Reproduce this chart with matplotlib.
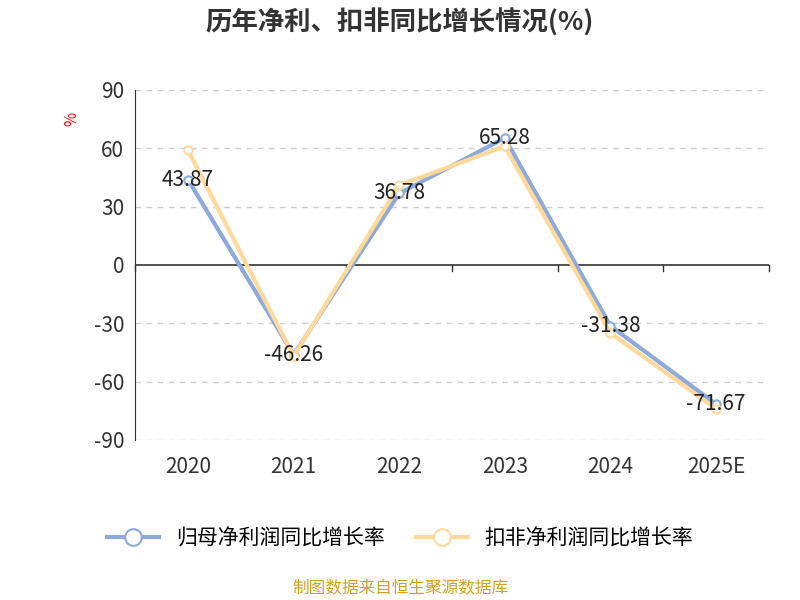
import matplotlib
matplotlib.use("Agg")
import matplotlib.pyplot as plt
import numpy as np

plt.rcParams['font.family'] = ['Noto Sans CJK SC', 'DejaVu Sans']

years = ["2020", "2021", "2022", "2023", "2024", "2025E"]
net_profit = [43.87, -46.26, 36.78, 65.28, -31.38, -71.67]
deducted = [59.0, -47.0, 41.0, 61.0, -35.0, -74.0]
yticks = [90, 60, 30, 0, -30, -60, -90]

c1 = "#8eaadb"
c2 = "#fdd99b"

fig = plt.figure(figsize=(8, 6), dpi=100)
ax = fig.add_axes([0.169, 0.267, 0.792, 0.583])
x = np.arange(len(years)) + 0.5

ax.plot(x, net_profit, "-o", color=c1, lw=3, ms=6, mfc="white", mew=1.5,
        label="归母净利润同比增长率", zorder=3)
ax.plot(x, deducted, "-o", color=c2, lw=3, ms=6, mfc="white", mew=1.5,
        label="扣非净利润同比增长率", zorder=4)
for xi, v in zip(x, net_profit):
    ax.text(xi, v, f"{v:.2f}", ha="center", va="center", fontsize=15, color="#222", zorder=5)

ax.set_xlim(0, len(years))
ax.set_ylim(-90, 90)
ax.set_yticks(yticks)
ax.set_yticklabels([str(t) for t in yticks], fontsize=15, color="#333")
ax.set_xticks(x)
ax.set_xticklabels(years, fontsize=15, color="#333")
ax.tick_params(axis="x", length=0, pad=12)
ax.tick_params(axis="y", length=0, pad=8)
for t in yticks:
    if t != 0:
        ax.axhline(t, color="#cccccc", ls=(0, (4, 4)), lw=1, zorder=0)
ax.axhline(0, color="#333", lw=1.2, zorder=1)
for xt in range(len(years) + 1):
    ax.plot([xt, xt], [0, -3], color="#333", lw=1, clip_on=False)
for s in ["top", "right", "bottom"]:
    ax.spines[s].set_visible(False)
ax.spines["left"].set_color("#333")

ax.text(-0.6, 75, "%", color="red", fontsize=11, rotation=90, ha="center", va="center")

fig.text(0.5, 0.962, "历年净利、扣非同比增长情况(%)", ha="center", va="center",
         fontsize=19, fontweight="bold", color="#333")
fig.legend(loc="center", bbox_to_anchor=(0.5, 0.103), ncol=2, frameon=False,
           fontsize=15, handlelength=2.5, markerscale=2, columnspacing=1.5)
fig.text(0.5, 0.018, "制图数据来自恒生聚源数据库", ha="center", va="center",
         fontsize=12, color="#d4a020")

fig.savefig("out.png", dpi=100)
